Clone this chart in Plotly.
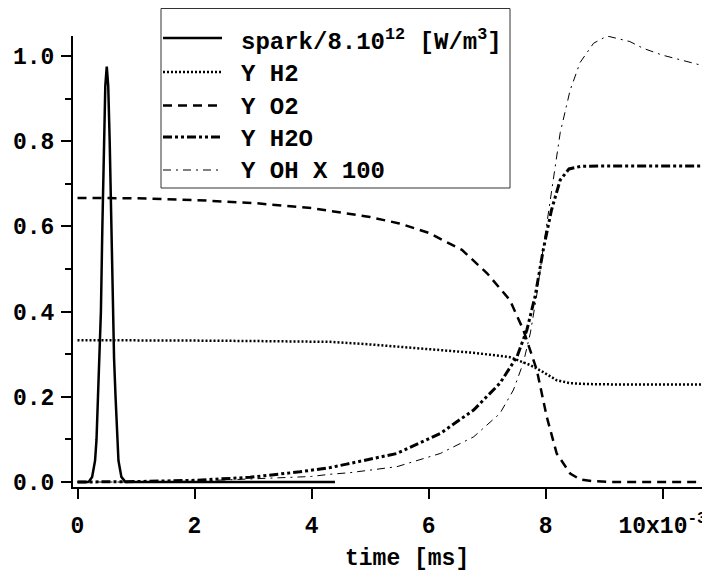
import plotly.graph_objects as go

# ---------------- data (time in ms) ----------------
spark_t = [0.0, 0.18, 0.2, 0.25, 0.3, 0.325, 0.35, 0.375, 0.4, 0.425, 0.45, 0.475, 0.5,
           0.525, 0.55, 0.575, 0.6, 0.625, 0.65, 0.675, 0.7, 0.75, 0.8, 0.82, 4.4]
spark_y = [0.0, 0.0, 0.002, 0.012, 0.05, 0.1, 0.2, 0.29, 0.4, 0.6, 0.8, 0.93, 0.975,
           0.93, 0.8, 0.6, 0.4, 0.29, 0.2, 0.1, 0.05, 0.012, 0.002, 0.0, 0.0]

h2_t = [0, 1, 2, 3, 4, 4.32, 5, 6.03, 6.8, 7.39, 7.73, 7.96, 8.19, 8.42, 8.71, 9.2, 10.81]
h2_y = [0.333, 0.333, 0.332, 0.331, 0.330, 0.329, 0.323, 0.312, 0.303, 0.293, 0.275,
        0.258, 0.239, 0.232, 0.230, 0.229, 0.229]

o2_t = [0, 1, 2, 3, 4, 5, 5.5, 6, 6.57, 7.0, 7.39, 7.62, 7.85, 8.02, 8.19, 8.42, 8.59,
        8.8, 9.2, 10.81]
o2_y = [0.667, 0.666, 0.662, 0.655, 0.643, 0.622, 0.607, 0.585, 0.545, 0.49, 0.427,
        0.357, 0.263, 0.153, 0.067, 0.02, 0.006, 0.002, 0.0, 0.0]

h2o_t = [0, 1, 2, 2.95, 3.8, 4.32, 4.6, 5.46, 6.2, 6.77, 7.22, 7.51, 7.68, 7.82, 7.96,
         8.1, 8.25, 8.4, 8.6, 9.0, 10.0, 10.81]
h2o_y = [0, 0.001, 0.004, 0.011, 0.024, 0.034, 0.042, 0.067, 0.114, 0.169, 0.232, 0.294,
         0.357, 0.435, 0.545, 0.638, 0.709, 0.735, 0.741, 0.742, 0.742, 0.742]

oh_t = [0, 1, 2, 3, 4, 4.3, 4.66, 5.46, 6.2, 6.77, 7.22, 7.45, 7.62, 7.74, 7.85, 7.96,
        8.1, 8.25, 8.42, 8.59, 8.82, 9.05, 9.44, 9.67, 10.0, 10.3, 10.81]
oh_y = [0, 0.0, 0.002, 0.007, 0.013, 0.018, 0.022, 0.036, 0.067, 0.106, 0.161, 0.216,
        0.28, 0.35, 0.44, 0.55, 0.68, 0.82, 0.92, 0.985, 1.03, 1.047, 1.034, 1.018,
        1.002, 0.991, 0.973]

x_tickvals = [0, 2, 4, 6, 8, 10]
x_ticktext = ["0", "2", "4", "6", "8", "10x10<sup>-3</sup>"]
y_tickvals = [0.0, 0.2, 0.4, 0.6, 0.8, 1.0]
y_ticktext = ["0.0", "0.2", "0.4", "0.6", "0.8", "1.0"]

legend_labels = ["spark/8.10<sup>12</sup> [W/m<sup>3</sup>]", "Y H2", "Y O2", "Y H2O",
                 "Y OH X 100"]
x_title = "time [ms]"

# ---------------- styles ----------------
FONT = "Liberation Mono, DejaVu Sans Mono, monospace"
styles = [
    dict(color="black", width=2.5, dash="solid"),
    dict(color="black", width=2.5, dash="2px,2px"),
    dict(color="black", width=2.5, dash="9px,6px"),
    dict(color="black", width=3, dash="9px,3px,3px,3px,3px,3px"),
    dict(color="black", width=1, dash="8px,5px,2px,5px"),
]
series = [(spark_t, spark_y), (h2_t, h2_y), (o2_t, o2_y), (h2o_t, h2o_y), (oh_t, oh_y)]

# the page body has an 8px margin: the figure starts at (8, 8) in the window
OFF = 8
W, H = 710 - OFF, 574 - OFF
ML, MR, MT, MB = 73 - OFF, 0, 36 - OFF, 87
PW, PH = W - ML - MR, H - MT - MB


def px(x):
    """window pixel x -> paper coordinate"""
    return (x - OFF - ML) / PW


def py(y):
    """window pixel y -> paper coordinate"""
    return (H - MB - (y - OFF)) / PH


fig = go.Figure()
for (t, y), st, lab in zip(series, styles, legend_labels):
    fig.add_trace(go.Scatter(x=t, y=y, mode="lines", line=st, showlegend=False,
                             name=lab, hoverinfo="skip"))

# ---------------- custom legend ----------------
shapes = [dict(type="rect", xref="paper", yref="paper", x0=px(161), x1=px(510),
               y0=py(188), y1=py(8.5), line=dict(color="#333", width=1),
               fillcolor="white", layer="below")]
annotations = []
line_rows = [38, 72, 105.5, 137, 170]
text_rows = [40, 75, 107, 139, 171]
for st, lab, ly, ty in zip(styles, legend_labels, line_rows, text_rows):
    shapes.append(dict(type="line", xref="paper", yref="paper", x0=px(163), x1=px(222),
                       y0=py(ly), y1=py(ly), line=st))
    annotations.append(dict(xref="paper", yref="paper", x=px(239), y=py(ty),
                            xanchor="left", yanchor="middle", showarrow=False,
                            text=lab, font=dict(family=FONT, size=24, color="black",
                                                weight="bold")))

annotations.append(dict(xref="paper", yref="paper", x=px(407), y=py(559),
                        xanchor="center", yanchor="middle", showarrow=False,
                        text=x_title, font=dict(family=FONT, size=23, color="black",
                                                weight="bold")))

axis_font = dict(family=FONT, size=23, color="black", weight="bold")
fig.update_layout(
    width=W, height=H,
    margin=dict(l=ML, r=MR, t=MT, b=MB),
    paper_bgcolor="white", plot_bgcolor="white",
    font=dict(family=FONT, size=23, color="black", weight="bold"),
    shapes=shapes, annotations=annotations,
    xaxis=dict(range=[-0.077, 10.81], showline=True, linecolor="black", linewidth=2,
               ticks="outside", ticklen=10, tickwidth=2, tickcolor="black",
               tickvals=x_tickvals, ticktext=x_ticktext, tickfont=axis_font,
               showgrid=False, zeroline=False, ticklabelstandoff=6),
    yaxis=dict(range=[-0.0117, 1.047], showline=True, linecolor="black", linewidth=2,
               ticks="outside", ticklen=10, tickwidth=2, tickcolor="black",
               tickvals=y_tickvals, ticktext=y_ticktext, tickfont=axis_font,
               showgrid=False, zeroline=False, ticklabelstandoff=2,
               minor=dict(ticks="outside", ticklen=6, tickwidth=2, tickcolor="black",
                          tickmode="linear", tick0=0.1, dtick=0.2, showgrid=False)),
)

fig.write_html("out.html")
